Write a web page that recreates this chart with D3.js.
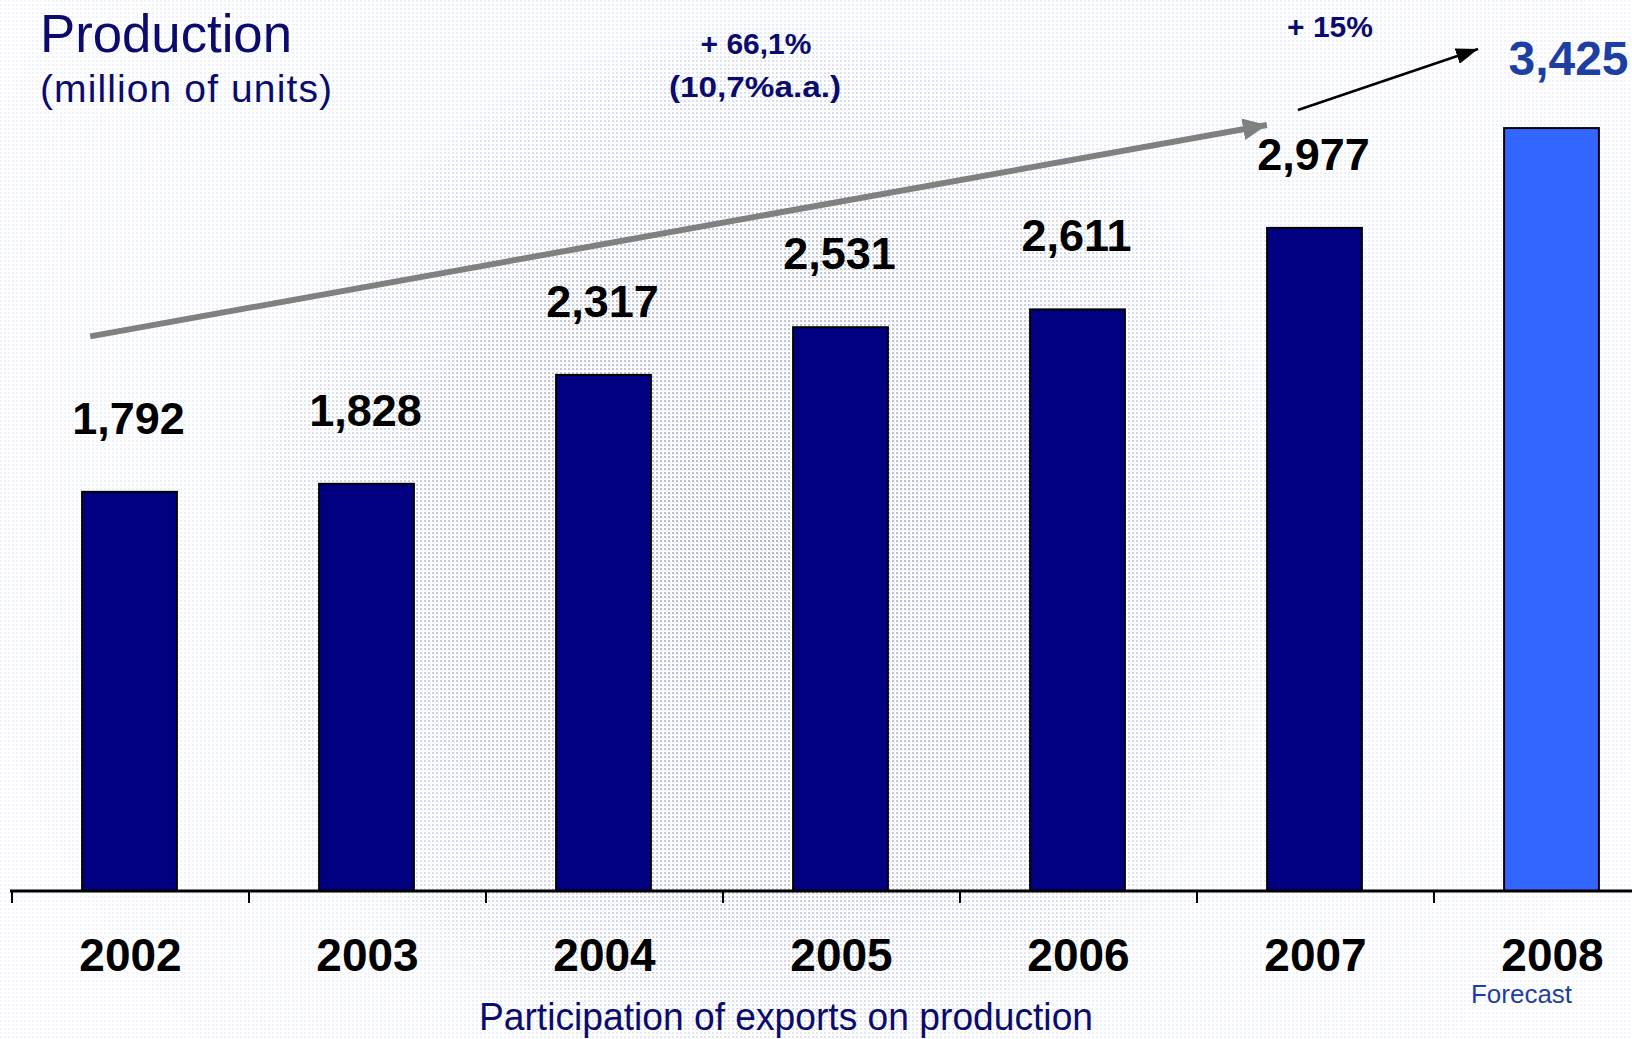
<!DOCTYPE html>
<html>
<head>
<meta charset="utf-8">
<script src="https://cdn.jsdelivr.net/npm/d3@7"></script>
<style>
  html, body { margin: 0; padding: 0; background: #ffffff; }
  svg { display: block; }
  text { font-family: "Liberation Sans", Arial, sans-serif; }
</style>
</head>
<body>
<svg id="chart" width="1632" height="1039"></svg>
<script>
// Vehicle production, million of units
const years = ["2002", "2003", "2004", "2005", "2006", "2007", "2008"];
const production = [1792, 1828, 2317, 2531, 2611, 2977, 3425];
const forecastYear = "2008";

// Growth annotations: [band index position, value] endpoints
const longTrend = [[0.33, 2490], [5.295, 3439]];
const shortTrend = [[5.426, 3506], [6.186, 3780]];
const longTrendText = ["+ 66,1%", "(10,7%a.a.)"];
const shortTrendText = ["+ 15%"];

const W = 1632, H = 1039;
const svg = d3.select("#chart");
const defs = svg.append("defs");

// ---- halftone backdrop ----
const pat = defs.append("pattern").attr("id", "dots")
  .attr("width", 4).attr("height", 4).attr("patternUnits", "userSpaceOnUse");
pat.append("rect").attr("width", 2).attr("height", 2).attr("fill", "#9ea4b4");
pat.append("rect").attr("x", 2).attr("y", 2).attr("width", 1).attr("height", 1).attr("fill", "#b4bccc");

const patB = defs.append("pattern").attr("id", "bluedots")
  .attr("width", 4).attr("height", 4).attr("patternUnits", "userSpaceOnUse");
patB.append("rect").attr("width", 2).attr("height", 2).attr("fill", "#a8bbf0");

const rg = defs.append("radialGradient").attr("id", "fade")
  .attr("gradientUnits", "userSpaceOnUse")
  .attr("cx", 760).attr("cy", 560).attr("r", 540);
rg.append("stop").attr("offset", "0%").attr("stop-color", "#fff").attr("stop-opacity", 0.7);
rg.append("stop").attr("offset", "60%").attr("stop-color", "#fff").attr("stop-opacity", 0.45);
rg.append("stop").attr("offset", "100%").attr("stop-color", "#fff").attr("stop-opacity", 0);
defs.append("mask").attr("id", "fadeMask")
  .append("rect").attr("width", W).attr("height", H).attr("fill", "url(#fade)");

const rg2 = defs.append("radialGradient").attr("id", "fade2")
  .attr("gradientUnits", "userSpaceOnUse")
  .attr("cx", 820).attr("cy", 420).attr("r", 900);
rg2.append("stop").attr("offset", "0%").attr("stop-color", "#fff").attr("stop-opacity", 0.4);
rg2.append("stop").attr("offset", "100%").attr("stop-color", "#fff").attr("stop-opacity", 0.15);
defs.append("mask").attr("id", "fadeMask2")
  .append("rect").attr("width", W).attr("height", H).attr("fill", "url(#fade2)");

svg.append("rect").attr("width", W).attr("height", H).attr("fill", "#ffffff");
svg.append("rect").attr("width", W).attr("height", H).attr("fill", "url(#bluedots)")
  .attr("mask", "url(#fadeMask2)");
svg.append("rect").attr("width", W).attr("height", H).attr("fill", "url(#dots)")
  .attr("mask", "url(#fadeMask)");

// ---- scales ----
const x = d3.scaleBand().domain(years).range([12, 12 + 237 * years.length])
  .paddingInner(0).paddingOuter(0);
const xi = d3.scaleLinear().domain([0, years.length]).range(x.range());
const y = d3.scaleLinear().domain([0, 4000]).range([891, 0]);
const barW = x.bandwidth() * 0.4;

// ---- bars ----
svg.append("g").selectAll("rect").data(years).join("rect")
  .attr("x", (d) => x(d) + x.bandwidth() / 2 - barW / 2 - 1)
  .attr("y", (d, i) => y(production[i]))
  .attr("width", barW)
  .attr("height", (d, i) => y(0) - y(production[i]))
  .attr("fill", (d) => d === forecastYear ? "#3366ff" : "#000080")
  .attr("stroke", "#000")
  .attr("stroke-width", 2);

// ---- axis ----
const axis = d3.axisBottom(x).tickSize(0).tickFormat("");
const gAxis = svg.append("g").attr("transform", `translate(0,${y(0)})`).call(axis);
gAxis.select(".domain").remove();
gAxis.append("line").attr("x1", 10).attr("x2", W).attr("y1", 0).attr("y2", 0)
  .attr("stroke", "#000").attr("stroke-width", 3);
gAxis.selectAll(".tick").remove();
gAxis.selectAll("line.sep").data(years).join("line").attr("class", "sep")
  .attr("x1", (d) => x(d)).attr("x2", (d) => x(d))
  .attr("y1", 0).attr("y2", 12)
  .attr("stroke", "#000").attr("stroke-width", 2);

// year labels
svg.append("g").selectAll("text").data(years).join("text")
  .attr("x", (d) => x(d) + x.bandwidth() / 2)
  .attr("y", 971)
  .attr("text-anchor", "middle")
  .attr("font-size", 46).attr("font-weight", "bold").attr("fill", "#000")
  .text((d) => d);

svg.append("text")
  .attr("x", x(forecastYear) + x.bandwidth() / 2 - 31).attr("y", 1003)
  .attr("text-anchor", "middle")
  .attr("font-size", 26).attr("fill", "#1f3f9f")
  .text("Forecast");

// value labels
const fmt = d3.format(",");
svg.append("g").selectAll("text").data(years).join("text")
  .attr("x", (d) => x(d) + x.bandwidth() / 2 + (d === forecastYear ? 16 : -2))
  .attr("y", (d, i) => y(production[i]) - (d === forecastYear ? 53 : 58))
  .attr("text-anchor", "middle")
  .attr("font-size", (d) => d === forecastYear ? 48 : 45)
  .attr("font-weight", "bold")
  .attr("fill", (d) => d === forecastYear ? "#1d3fa3" : "#000")
  .text((d, i) => fmt(production[i]));

// ---- trend arrows ----
function arrowMarker(id, color, w, h) {
  defs.append("marker").attr("id", id)
    .attr("viewBox", `0 0 ${w} ${h}`)
    .attr("refX", w).attr("refY", h / 2)
    .attr("markerWidth", w).attr("markerHeight", h)
    .attr("markerUnits", "userSpaceOnUse")
    .attr("orient", "auto")
    .append("path").attr("d", `M0,0L${w},${h / 2}L0,${h}Z`).attr("fill", color);
}
arrowMarker("headGrey", "#808080", 24, 22);
arrowMarker("headBlack", "#000", 22, 16);

const line = d3.line().x((p) => xi(p[0])).y((p) => y(p[1]));
svg.append("path").datum(longTrend).attr("d", line)
  .attr("stroke", "#808080").attr("stroke-width", 6).attr("fill", "none")
  .attr("marker-end", "url(#headGrey)");
svg.append("path").datum(shortTrend).attr("d", line)
  .attr("stroke", "#000").attr("stroke-width", 2.5).attr("fill", "none")
  .attr("marker-end", "url(#headBlack)");

const navy = "#0b0b6e";
svg.append("text").attr("x", 756).attr("y", 54).attr("text-anchor", "middle")
  .attr("font-size", 30).attr("font-weight", "bold").attr("fill", navy)
  .text(longTrendText[0]);
svg.append("text").attr("x", 755).attr("y", 97).attr("text-anchor", "middle")
  .attr("font-size", 30).attr("font-weight", "bold").attr("fill", navy)
  .attr("textLength", 172).attr("lengthAdjust", "spacingAndGlyphs")
  .text(longTrendText[1]);
svg.append("text").attr("x", 1330).attr("y", 37).attr("text-anchor", "middle")
  .attr("font-size", 30).attr("font-weight", "bold").attr("fill", navy)
  .text(shortTrendText[0]);

// ---- titles ----
svg.append("text").attr("x", 40).attr("y", 52)
  .attr("font-size", 54).attr("fill", navy)
  .attr("textLength", 252).attr("lengthAdjust", "spacingAndGlyphs")
  .text("Production");
svg.append("text").attr("x", 40).attr("y", 102)
  .attr("font-size", 39).attr("fill", navy)
  .attr("textLength", 292).attr("lengthAdjust", "spacing")
  .text("(million of units)");

svg.append("text").attr("x", 786).attr("y", 1030).attr("text-anchor", "middle")
  .attr("font-size", 38).attr("fill", navy)
  .attr("textLength", 614).attr("lengthAdjust", "spacingAndGlyphs")
  .text("Participation of exports on production");
</script>
</body>
</html>
